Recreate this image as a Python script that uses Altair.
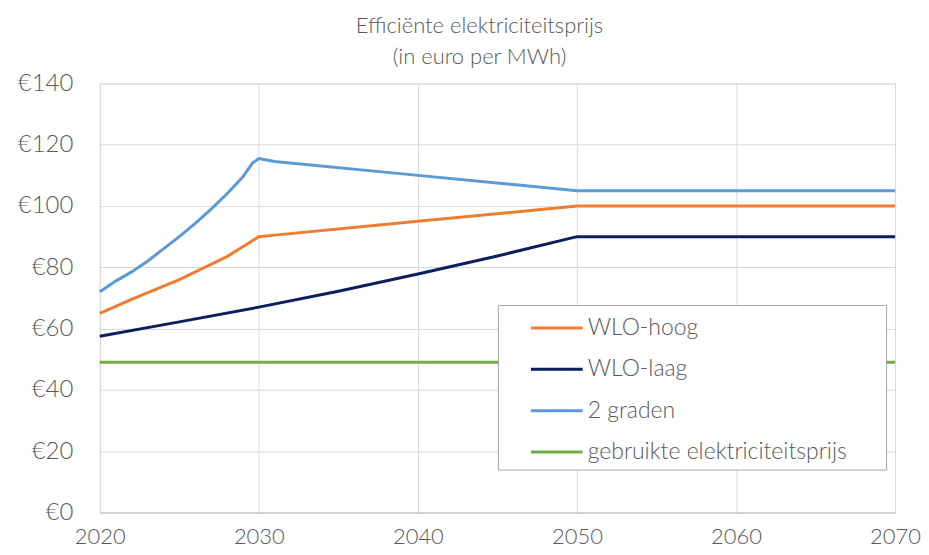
import altair as alt
import pandas as pd

series_names = ["WLO-hoog", "WLO-laag", "2 graden", "gebruikte elektriciteitsprijs"]
colors = ["#ED7D31", "#0B1F5E", "#5B9BD5", "#70AD47"]

hoog_years = [2020, 2022, 2025, 2028, 2030, 2031, 2040, 2050, 2060, 2070]
hoog_vals = [65, 69.5, 76, 83.5, 90, 90.5, 95, 100, 100, 100]

laag_years = [2020, 2025, 2030, 2035, 2040, 2045, 2050, 2051, 2060, 2070]
laag_vals = [57.5, 62.2, 67, 72.2, 77.8, 83.7, 90, 90, 90, 90]

graden_years = [2020, 2021, 2022, 2023, 2024, 2025, 2026, 2027, 2028, 2029, 2029.6, 2030, 2031, 2040, 2050, 2060, 2070]
graden_vals = [72, 75.5, 78.5, 82, 86, 90, 94.3, 99, 104, 109.5, 114, 115.5, 114.5, 110, 105, 105, 105]

gebruikt_years = [2020, 2030, 2040, 2050, 2060, 2070]
gebruikt_vals = [49, 49, 49, 49, 49, 49]

rows = []
for name, ys, vs in [
    (series_names[0], hoog_years, hoog_vals),
    (series_names[1], laag_years, laag_vals),
    (series_names[2], graden_years, graden_vals),
    (series_names[3], gebruikt_years, gebruikt_vals),
]:
    for y, v in zip(ys, vs):
        rows.append({"serie": name, "jaar": y, "prijs": v})
df = pd.DataFrame(rows)

FONT = "Lato"
GREY = "#595959"

chart = alt.Chart(df).mark_line(strokeWidth=3).encode(
    x=alt.X("jaar:Q", scale=alt.Scale(domain=[2020, 2070], nice=False),
            axis=alt.Axis(values=[2020, 2030, 2040, 2050, 2060, 2070], format="d",
                          title=None, labelFontSize=22, labelColor=GREY, labelFont=FONT,
                          labelFontWeight=300,
                          labelPadding=14, ticks=False, domainColor="#bfbfbf",
                          gridColor="#d9d9d9", labelFlush=False)),
    y=alt.Y("prijs:Q", scale=alt.Scale(domain=[0, 140], nice=False),
            axis=alt.Axis(values=[0, 20, 40, 60, 80, 100, 120, 140], title=None,
                          labelExpr="'€' + datum.value", labelFontSize=24,
                          labelColor=GREY, labelFont=FONT, labelFontWeight=300,
                          labelPadding=27,
                          ticks=False, domain=False, gridColor="#d9d9d9")),
    color=alt.Color("serie:N", scale=alt.Scale(domain=series_names, range=colors),
                    legend=alt.Legend(title=None, orient="none", legendX=399, legendY=222,
                                      symbolType="M-1.6,0H1.6", symbolSize=1050,
                                      symbolStrokeWidth=3, labelFontSize=23,
                                      labelColor=GREY, labelFont=FONT, labelFontWeight=300,
                                      labelExpr="datum.label + '\u2800\u2800'",
                                      rowPadding=11.5, labelLimit=420,
                                      fillColor="white", strokeColor="#a6a6a6",
                                      padding=5, labelOffset=13, symbolOffset=36)),
    order=alt.Order("jaar:Q"),
).properties(
    width=797, height=430,
    title=alt.TitleParams(["Efficiënte elektriciteitsprijs", "(in euro per MWh)"],
                          fontSize=22, fontWeight=300, color=GREY, font=FONT,
                          anchor="middle", offset=2, lineHeight=32, dx=-18),
).configure_view(stroke="#d9d9d9").configure(padding={"left": 9, "top": 6, "right": 0, "bottom": 0})

chart.save("out.html", embed_options={"renderer": "svg", "actions": False})
